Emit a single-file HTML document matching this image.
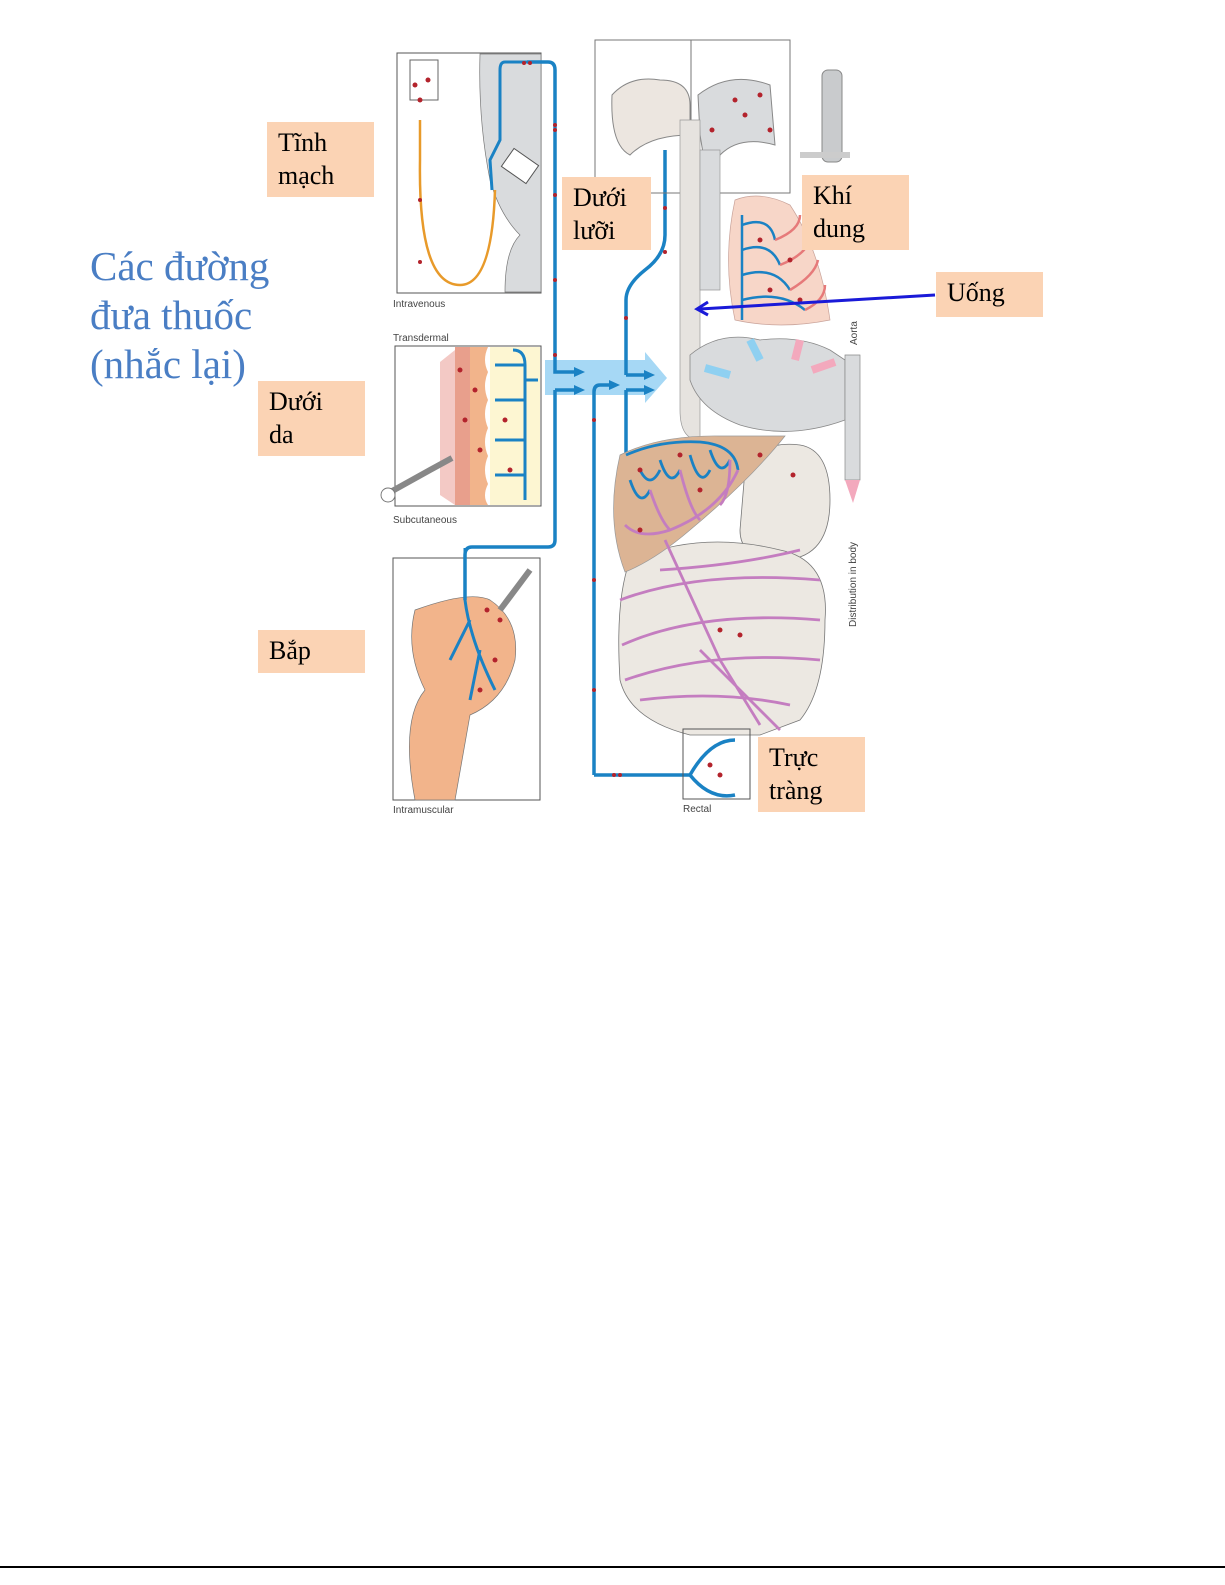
<!DOCTYPE html>
<html><head><meta charset="utf-8"><style>
html,body{margin:0;padding:0;background:#fff;}
body{width:1225px;height:1585px;position:relative;overflow:hidden;font-family:"Liberation Serif",serif;}
.lbl{position:absolute;background:#fbd3b4;color:#000;font-size:26px;line-height:33px;padding:4px 0 0 11px;box-sizing:border-box;}
.title{position:absolute;left:90px;top:242px;color:#4a7ec4;font-size:41px;line-height:49px;}
svg{position:absolute;left:0;top:0;}
</style></head><body>
<svg width="1225" height="1585" viewBox="0 0 1225 1585" font-family="Liberation Sans, sans-serif">
<defs>
<marker id="ab" markerUnits="userSpaceOnUse" markerWidth="11" markerHeight="10" refX="6" refY="5" orient="auto"><path d="M0,0 L11,5 L0,10 z" fill="#1a82c4"/></marker>
</defs>
<path d="M545,360 L645,360 L645,352 L667,378 L645,403 L645,395 L545,395 z" fill="#a6d8f5"/>
<rect x="397" y="53" width="144" height="240" fill="#fff" stroke="#555" stroke-width="1"/>
<path d="M480,54 L541,54 L541,292 L505,292 Q505,250 520,235 Q500,215 490,180 Q478,120 480,54z" fill="#d9dbdd" stroke="#777" stroke-width="0.7"/>
<rect x="410" y="60" width="28" height="40" fill="#fff" stroke="#666"/>
<path d="M420,120 L420,160 Q418,285 460,285 Q492,285 495,190" fill="none" stroke="#e89a2a" stroke-width="2.5"/>
<path d="M527,62 L505,62 Q500,62 500,70 L500,140 L490,160 L492,190" fill="none" stroke="#1a82c4" stroke-width="3"/>
<rect x="505" y="155" width="30" height="22" fill="#fff" stroke="#555" transform="rotate(35 520 166)"/>
<text x="393" y="307" font-size="10" fill="#444">Intravenous</text>
<text x="393" y="341" font-size="10" fill="#444">Transdermal</text>
<rect x="395" y="346" width="146" height="160" fill="#fff" stroke="#555"/>
<rect x="490" y="347" width="50" height="158" fill="#fdf6d2"/>
<path d="M440,362 L455,350 L470,350 L470,505 L455,505 L440,495z" fill="#f3c9c5"/>
<rect x="455" y="347" width="15" height="158" fill="#e89f8c"/>
<path d="M470,347 L488,347 Q482,360 488,372 Q482,386 488,400 Q482,414 488,428 Q482,442 488,456 Q482,470 488,484 Q482,496 488,505 L470,505z" fill="#f2b48b"/>
<path d="M513,350 Q525,350 525,365 L525,500 M495,365 L525,365 M495,400 L525,400 M495,440 L525,440 M495,475 L525,475 M525,380 L538,380" fill="none" stroke="#1a82c4" stroke-width="3"/>
<path d="M385,495 L430,470 L452,458" stroke="#888" stroke-width="6" fill="none"/>
<circle cx="388" cy="495" r="7" fill="#fff" stroke="#777"/>
<text x="393" y="523" font-size="10" fill="#444">Subcutaneous</text>
<rect x="393" y="558" width="147" height="242" fill="#fff" stroke="#555"/>
<path d="M415,610 Q470,590 490,600 Q520,620 515,660 Q505,700 470,715 L455,800 L415,800 Q400,720 425,690 Q405,650 415,610z" fill="#f2b48b" stroke="#777" stroke-width="0.7"/>
<path d="M465,548 L465,600 Q470,640 495,690 M470,620 L450,660 M480,650 L470,700" fill="none" stroke="#1a82c4" stroke-width="3"/>
<path d="M500,610 L530,570" stroke="#888" stroke-width="6"/>
<text x="393" y="813" font-size="10" fill="#444">Intramuscular</text>
<path d="M527,62 L548,62 Q555,62 555,70 L555,372 L580,372" fill="none" stroke="#1a82c4" stroke-width="3.5" marker-end="url(#ab)"/>
<path d="M555,390 L580,390" stroke="#1a82c4" stroke-width="3.5" marker-end="url(#ab)"/>
<path d="M555,390 L555,540 Q555,547 548,547 L472,547 Q465,547 465,555 L465,600" fill="none" stroke="#1a82c4" stroke-width="3.5"/>
<path d="M594,775 L594,392 Q594,385 600,385 L615,385" fill="none" stroke="#1a82c4" stroke-width="3.5" marker-end="url(#ab)"/>
<path d="M594,775 L690,775 M690,775 Q710,740 735,740 M690,775 Q710,800 735,795" fill="none" stroke="#1a82c4" stroke-width="3.5"/>
<path d="M626,375 L626,300 Q626,285 645,270 Q665,255 665,235 L665,150" fill="none" stroke="#1a82c4" stroke-width="3.5"/>
<path d="M626,375 L650,375" stroke="#1a82c4" stroke-width="3.5" marker-end="url(#ab)"/>
<path d="M626,390 L650,390" stroke="#1a82c4" stroke-width="3.5" marker-end="url(#ab)"/>
<path d="M626,390 L626,480" stroke="#1a82c4" stroke-width="3.5"/>
<rect x="595" y="40" width="195" height="153" fill="none" stroke="#777"/>
<line x1="691" y1="40" x2="691" y2="193" stroke="#777"/>
<path d="M612,95 Q630,75 660,80 Q690,80 690,105 L690,135 Q650,135 630,155 Q610,145 612,95z" fill="#ece6e0" stroke="#888"/>
<path d="M698,95 Q730,70 770,85 L775,145 Q740,135 720,155 L710,195 L700,135z" fill="#d9dbdd" stroke="#888"/>
<rect x="822" y="70" width="20" height="92" rx="6" fill="#c9cbcd" stroke="#888"/>
<path d="M800,155 L850,155" stroke="#ccc" stroke-width="6"/>
<path d="M680,120 L680,410 Q680,440 700,440 L700,120z" fill="#e6e3df" stroke="#999" stroke-width="0.7"/>
<path d="M700,150 L720,150 L720,290 L700,290z" fill="#d9dbdd" stroke="#999" stroke-width="0.7"/>
<path d="M735,200 Q760,190 790,205 Q820,250 830,320 Q780,330 735,320 Q722,260 735,200z" fill="#f7d6c8" stroke="#c9a39a" stroke-width="0.7"/>
<g fill="none" stroke-width="2.5">
<path d="M742,215 L742,320" stroke="#1a82c4"/>
<path d="M742,225 Q770,215 775,240 M742,250 Q770,240 780,265 M742,275 Q775,265 790,290 M742,300 Q780,290 805,310" stroke="#1a82c4"/>
<path d="M775,240 Q800,230 800,215 M780,265 Q805,255 810,240 M790,290 Q815,275 818,260 M805,310 Q825,300 825,285" stroke="#e67a7a"/>
</g>
<path d="M690,355 Q720,330 760,340 Q800,335 830,350 L845,360 L845,420 Q790,440 740,425 Q700,410 690,380z" fill="#d9dbdd" stroke="#888" stroke-width="0.8"/>
<path d="M845,355 L860,355 L860,480 L845,480z" fill="#d9dbdd" stroke="#888" stroke-width="0.7"/>
<path d="M845,480 L860,480 L853,503z" fill="#f3a9bd"/>
<path d="M750,340 L760,360" stroke="#8fd0f1" stroke-width="8"/>
<path d="M800,340 L795,360" stroke="#f3a9bd" stroke-width="8"/>
<path d="M812,370 L835,362" stroke="#f3a9bd" stroke-width="8"/>
<path d="M705,368 L730,375" stroke="#8fd0f1" stroke-width="8"/>
<text transform="translate(857,345) rotate(-90)" font-size="10" fill="#444">Aorta</text>
<text transform="translate(856,627) rotate(-90)" font-size="10" fill="#444">Distribution in body</text>
<path d="M745,470 Q760,440 800,445 Q830,450 830,500 Q830,560 780,560 Q740,560 740,530z" fill="#ece8e2" stroke="#777" stroke-width="0.8"/>
<path d="M630,560 Q700,530 780,550 Q830,560 825,620 Q825,690 800,720 L760,735 L690,735 Q630,720 620,680 Q615,600 630,560z" fill="#ece8e2" stroke="#777" stroke-width="0.8"/>
<path d="M620,455 Q660,435 720,436 L785,436 Q750,480 690,530 Q655,560 625,572 Q605,520 620,455z" fill="#dcb494" stroke="#999" stroke-width="0.7"/>
<g fill="none" stroke-width="2.8">
<path d="M626,455 Q660,440 700,442 Q735,445 738,470 M640,470 Q650,490 660,470 M660,460 Q670,490 680,470 M690,455 Q700,490 710,470 M710,450 Q720,480 730,460 M630,480 Q640,510 650,490" stroke="#1a82c4"/>
<path d="M738,470 Q720,510 670,530 Q640,540 625,525 M650,490 Q660,520 670,530 M680,470 Q690,510 700,520 M730,460 Q730,495 720,505" stroke="#c47dc0"/>
<path d="M665,540 L720,660 L760,725 M620,600 Q700,570 820,580 M622,645 Q700,610 820,620 M625,680 Q710,650 820,660 M640,700 Q720,690 790,705 M700,650 Q730,680 780,730 M660,570 Q740,565 800,550" stroke="#c47dc0"/>
</g>
<rect x="683" y="729" width="67" height="70" fill="none" stroke="#555"/>
<text x="683" y="812" font-size="10" fill="#444">Rectal</text>
<g fill="#b3232c">
<circle cx="524" cy="63" r="2"/><circle cx="530" cy="63" r="2"/><circle cx="555" cy="125" r="2"/><circle cx="555" cy="130" r="2"/>
<circle cx="555" cy="195" r="2"/><circle cx="555" cy="280" r="2"/><circle cx="555" cy="355" r="2"/>
<circle cx="420" cy="100" r="2.5"/><circle cx="428" cy="80" r="2.5"/><circle cx="415" cy="85" r="2.5"/><circle cx="420" cy="200" r="2"/><circle cx="420" cy="262" r="2"/>
<circle cx="460" cy="370" r="2.5"/><circle cx="475" cy="390" r="2.5"/><circle cx="465" cy="420" r="2.5"/><circle cx="480" cy="450" r="2.5"/><circle cx="505" cy="420" r="2.5"/><circle cx="510" cy="470" r="2.5"/>
<circle cx="487" cy="610" r="2.5"/><circle cx="500" cy="620" r="2.5"/><circle cx="495" cy="660" r="2.5"/><circle cx="480" cy="690" r="2.5"/>
<circle cx="594" cy="420" r="2"/><circle cx="594" cy="580" r="2"/><circle cx="594" cy="690" r="2"/><circle cx="614" cy="775" r="2"/><circle cx="620" cy="775" r="2"/>
<circle cx="665" cy="208" r="2"/><circle cx="665" cy="252" r="2"/><circle cx="626" cy="318" r="2"/>
<circle cx="735" cy="100" r="2.5"/><circle cx="745" cy="115" r="2.5"/><circle cx="712" cy="130" r="2.5"/><circle cx="770" cy="130" r="2.5"/><circle cx="760" cy="95" r="2.5"/>
<circle cx="760" cy="240" r="2.5"/><circle cx="790" cy="260" r="2.5"/><circle cx="800" cy="300" r="2.5"/><circle cx="770" cy="290" r="2.5"/>
<circle cx="640" cy="470" r="2.5"/><circle cx="680" cy="455" r="2.5"/><circle cx="700" cy="490" r="2.5"/><circle cx="760" cy="455" r="2.5"/><circle cx="640" cy="530" r="2.5"/>
<circle cx="720" cy="630" r="2.5"/><circle cx="740" cy="635" r="2.5"/><circle cx="710" cy="765" r="2.5"/><circle cx="720" cy="775" r="2.5"/><circle cx="793" cy="475" r="2.5"/>
</g>
<line x1="935" y1="295" x2="700" y2="309" stroke="#1a1ad8" stroke-width="3"/>
<path d="M708,302 L697,309 L708,315" fill="none" stroke="#1a1ad8" stroke-width="3"/>
<line x1="0" y1="1567" x2="1225" y2="1567" stroke="#000" stroke-width="2"/>
</svg>
<div class="title">Các đường<br>đưa thuốc<br>(nhắc lại)</div>
<div class="lbl" style="left:267px;top:122px;width:107px;height:75px;">Tĩnh<br>mạch</div>
<div class="lbl" style="left:258px;top:381px;width:107px;height:75px;">Dưới<br>da</div>
<div class="lbl" style="left:258px;top:630px;width:107px;height:43px;">Bắp</div>
<div class="lbl" style="left:562px;top:177px;width:89px;height:73px;">Dưới<br>lưỡi</div>
<div class="lbl" style="left:802px;top:175px;width:107px;height:75px;">Khí<br>dung</div>
<div class="lbl" style="left:936px;top:272px;width:107px;height:45px;">Uống</div>
<div class="lbl" style="left:758px;top:737px;width:107px;height:75px;">Trực<br>tràng</div>
</body></html>
